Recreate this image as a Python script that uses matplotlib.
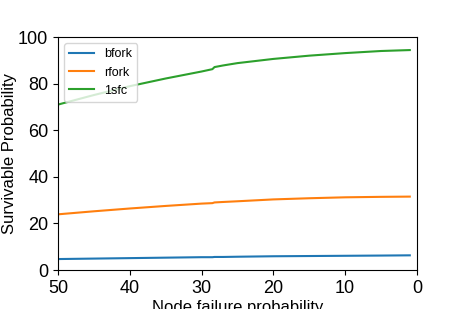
import matplotlib
matplotlib.use("Agg")
import matplotlib.pyplot as plt

plt.rcParams['font.family'] = ['Liberation Sans', 'DejaVu Sans']

# node failure probability (%)
x = [50, 45, 40, 35, 30, 28.5, 28.2, 27, 25, 20, 15, 10, 5, 1]
bfork = [4.7, 4.9, 5.1, 5.3, 5.5, 5.5, 5.6, 5.6, 5.7, 5.9, 6.0, 6.1, 6.2, 6.3]
rfork = [23.9, 25.2, 26.4, 27.5, 28.5, 28.7, 29.0, 29.2, 29.5, 30.3, 30.8, 31.2, 31.4, 31.5]
sfc = [71.0, 75.1, 78.9, 82.2, 85.2, 86.2, 87.1, 87.8, 88.8, 90.6, 92.0, 93.1, 94.0, 94.4]

fig = plt.figure(figsize=(4.63, 3.09), dpi=100)
ax = fig.add_axes([0.1253, 0.1262, 0.7753, 0.754])

ax.plot(x, bfork, label="bfork")
ax.plot(x, rfork, label="rfork")
ax.plot(x, sfc, label="1sfc")

ax.set_xlim(50, 0)
ax.set_ylim(0, 100)
ax.set_xticks([50, 40, 30, 20, 10, 0])
ax.set_yticks([0, 20, 40, 60, 80, 100])
ax.tick_params(labelsize=13)
ax.set_xlabel("Node failure probability", fontsize=12, labelpad=2)
ax.set_ylabel("Survivable Probability", fontsize=12, labelpad=1)
ax.legend(loc="upper left", fontsize=9)

fig.savefig("out.png", dpi=100)
